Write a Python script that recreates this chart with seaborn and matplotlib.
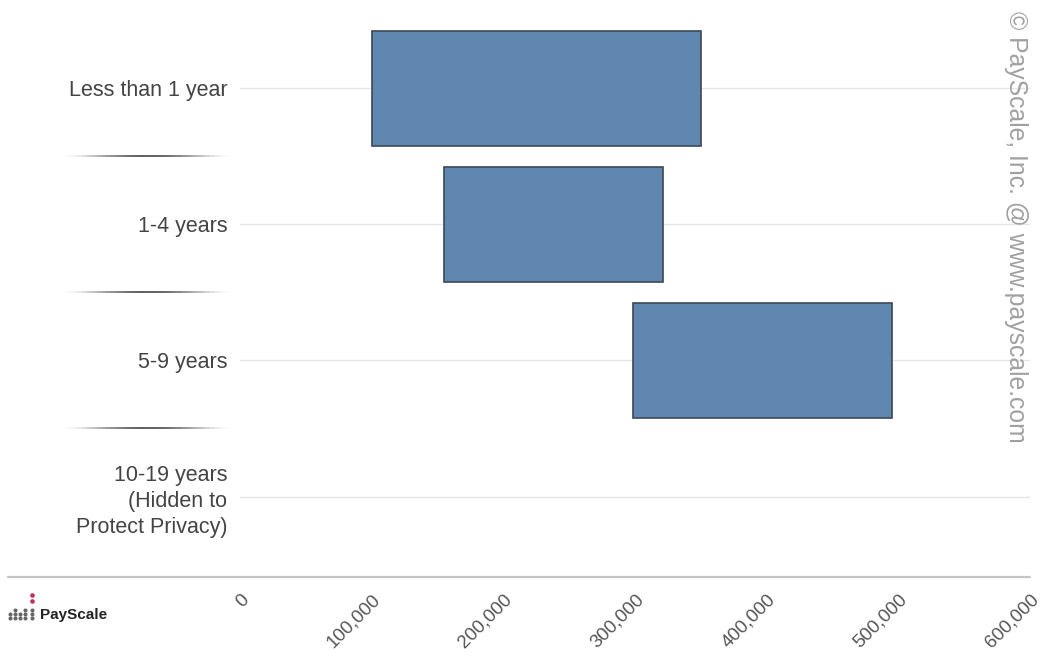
import numpy as np
import pandas as pd
import matplotlib
matplotlib.use("Agg")
import matplotlib.pyplot as plt
from matplotlib.lines import Line2D
import seaborn as sns

# ---- data ----
categories = ["Less than 1 year", "1-4 years", "5-9 years",
              "10-19 years\n(Hidden to\nProtect Privacy)"]
low_values = [100500, 155000, 298500]
high_values = [350500, 321500, 495500]
x_ticks = [0, 100000, 200000, 300000, 400000, 500000, 600000]
x_tick_labels = ["0", "100,000", "200,000", "300,000", "400,000", "500,000", "600,000"]
watermark = "© PayScale, Inc. @ www.payscale.com"

sns.set_theme(style="white")
plt.rcParams['font.family'] = ['Liberation Sans', 'DejaVu Sans']

W, H = 1045, 656
fig = plt.figure(figsize=(W / 100, H / 100), dpi=100)
ax = fig.add_axes([240 / W, 1 - 577 / H, (1030 - 240) / W, (577 - 20) / H])

df = pd.DataFrame({
    "category": categories[:len(low_values)],
    "span": np.array(high_values) - np.array(low_values),
})
sns.barplot(data=df, x="span", y="category", order=categories,
            left=low_values, width=0.845, color="#5f87b0", saturation=1,
            edgecolor="#3b4856", linewidth=1.2, ax=ax, zorder=3)

ax.set_xlim(0, 600000)
ax.set_ylim(3.59, -0.5)
ax.set_xlabel("")
ax.set_ylabel("")
for s in ax.spines.values():
    s.set_visible(False)

# horizontal grid at category centers
for i in range(len(categories)):
    ax.axhline(i, color="#e6e6e6", lw=1, zorder=0)

ax.set_yticks(range(len(categories)))
ax.set_yticklabels(categories, color="#444444", fontsize=15.5, linespacing=1.3)
ax.tick_params(axis="y", length=0, pad=9)

ax.set_xticks(x_ticks)
ax.set_xticklabels(x_tick_labels, rotation=45, ha="right", va="top",
                   rotation_mode="anchor", color="#555555", fontsize=13.5)
ax.tick_params(axis="x", length=0, pad=10)

# bottom axis line (extends to figure left)
fig.add_artist(Line2D([8 / W, 1030 / W], [1 - 577 / H] * 2, color="#c4c4c4", lw=1.6,
                      transform=fig.transFigure))

# tapered separators on the left
for yy in [156, 292, 428]:
    xs = np.linspace(65, 230, 41)
    for k in range(40):
        t = (k + 0.5) / 40
        a = np.sin(np.pi * t) ** 1.5
        fig.add_artist(Line2D([xs[k] / W, xs[k + 1] / W], [1 - yy / H] * 2,
                              color="#333333", alpha=0.85 * a, lw=1.3,
                              transform=fig.transFigure, solid_capstyle="butt"))

# watermark
fig.text(1016 / W, 1 - 227 / H, watermark, rotation=-90, color="#a0a0a0",
         fontsize=17.8, ha="center", va="center")

# PayScale logo
for cx, xx in enumerate([10, 15, 20, 25, 32]):
    for cy, yy in enumerate([610, 614, 618]):
        if cy == 0 and cx in (0, 2):
            continue
        fig.add_artist(Line2D([xx / W], [1 - yy / H],
                              marker="o", ms=1.9, color="#666666", lw=0,
                              transform=fig.transFigure))
fig.add_artist(Line2D([32 / W], [1 - 595 / H], marker="o", ms=2.3, color="#c0305a", lw=0,
                      transform=fig.transFigure))
fig.add_artist(Line2D([32 / W], [1 - 601 / H], marker="o", ms=2.3, color="#c0305a", lw=0,
                      transform=fig.transFigure))
fig.text(40 / W, 1 - 615 / H, "PayScale", fontsize=11, fontweight="bold",
         color="#222222", ha="left", va="center")

fig.savefig("out.png", dpi=100)
